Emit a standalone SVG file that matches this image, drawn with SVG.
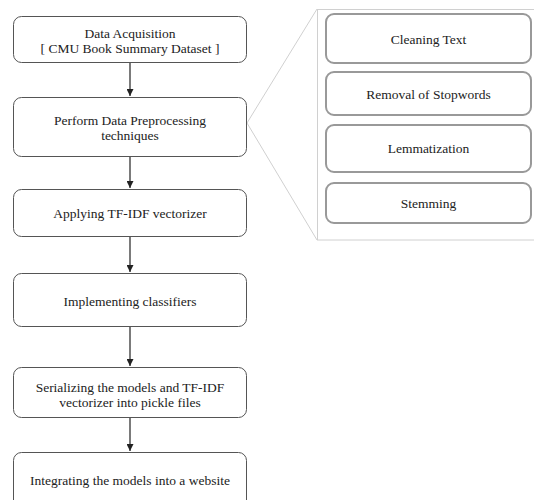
<svg xmlns="http://www.w3.org/2000/svg" width="534" height="500" viewBox="0 0 534 500">
<style>
.box{fill:#fff;stroke:#555;stroke-width:1}
.sub{fill:#fff;stroke:#999;stroke-width:2}
.t{font-family:'Liberation Serif','DejaVu Serif',serif;font-size:13.5px;fill:#222;text-anchor:middle}
.arrow{stroke:#222;stroke-width:1.2;fill:none}
.zoom{stroke:#d0d0d0;stroke-width:1;fill:none}
</style>
<defs>
<marker id="ah" viewBox="0 0 10 10" refX="10" refY="5" markerWidth="7" markerHeight="7" markerUnits="userSpaceOnUse" orient="auto">
<path d="M0,0 L10,5 L0,10 z" fill="#222"/>
</marker>
</defs>
<rect width="534" height="500" fill="#fff"/>
<g id="connectors">
<path class="zoom" d="M247,123 L317,9 M247,123 L317,240"/>
<rect class="zoom" x="317.5" y="9.5" width="240" height="230.5"/>
<line class="arrow" x1="130" y1="63" x2="130" y2="96" marker-end="url(#ah)"/>
<line class="arrow" x1="130" y1="157" x2="130" y2="188" marker-end="url(#ah)"/>
<line class="arrow" x1="130" y1="237" x2="130" y2="272" marker-end="url(#ah)"/>
<line class="arrow" x1="130" y1="327" x2="130" y2="366" marker-end="url(#ah)"/>
<line class="arrow" x1="130" y1="418" x2="130" y2="451" marker-end="url(#ah)"/>
</g>
<g id="n1"><rect class="box" x="13.5" y="16.5" width="233" height="46" rx="8"/>
<text class="t" x="130" y="37.5">Data Acquisition</text><text class="t" x="130" y="53">[ CMU Book Summary Dataset ]</text></g>
<g id="n2"><rect class="box" x="13.5" y="97.5" width="233" height="59" rx="8"/>
<text class="t" x="130" y="124.5">Perform Data Preprocessing</text><text class="t" x="130" y="139.5">techniques</text></g>
<g id="n3"><rect class="box" x="13.5" y="189.5" width="233" height="47" rx="8"/>
<text class="t" x="130" y="218">Applying TF-IDF vectorizer</text></g>
<g id="n4"><rect class="box" x="13.5" y="273.5" width="233" height="53" rx="8"/>
<text class="t" x="130" y="305.5">Implementing classifiers</text></g>
<g id="n5"><rect class="box" x="13.5" y="367.5" width="233" height="50" rx="8"/>
<text class="t" x="130" y="392">Serializing the models and TF-IDF</text><text class="t" x="130" y="407">vectorizer into pickle files</text></g>
<g id="n6"><rect class="box" x="13.5" y="452.5" width="233" height="60" rx="8"/>
<text class="t" x="130" y="485">Integrating the models into a website</text></g>
<g id="s1"><rect class="sub" x="326" y="14" width="205" height="49" rx="8"/>
<text class="t" x="428.5" y="44">Cleaning Text</text></g>
<g id="s2"><rect class="sub" x="326" y="72" width="205" height="43" rx="8"/>
<text class="t" x="428.5" y="99">Removal of Stopwords</text></g>
<g id="s3"><rect class="sub" x="326" y="125" width="205" height="47" rx="8"/>
<text class="t" x="428.5" y="153">Lemmatization</text></g>
<g id="s4"><rect class="sub" x="326" y="183" width="205" height="40" rx="8"/>
<text class="t" x="428.5" y="208">Stemming</text></g>
</svg>
